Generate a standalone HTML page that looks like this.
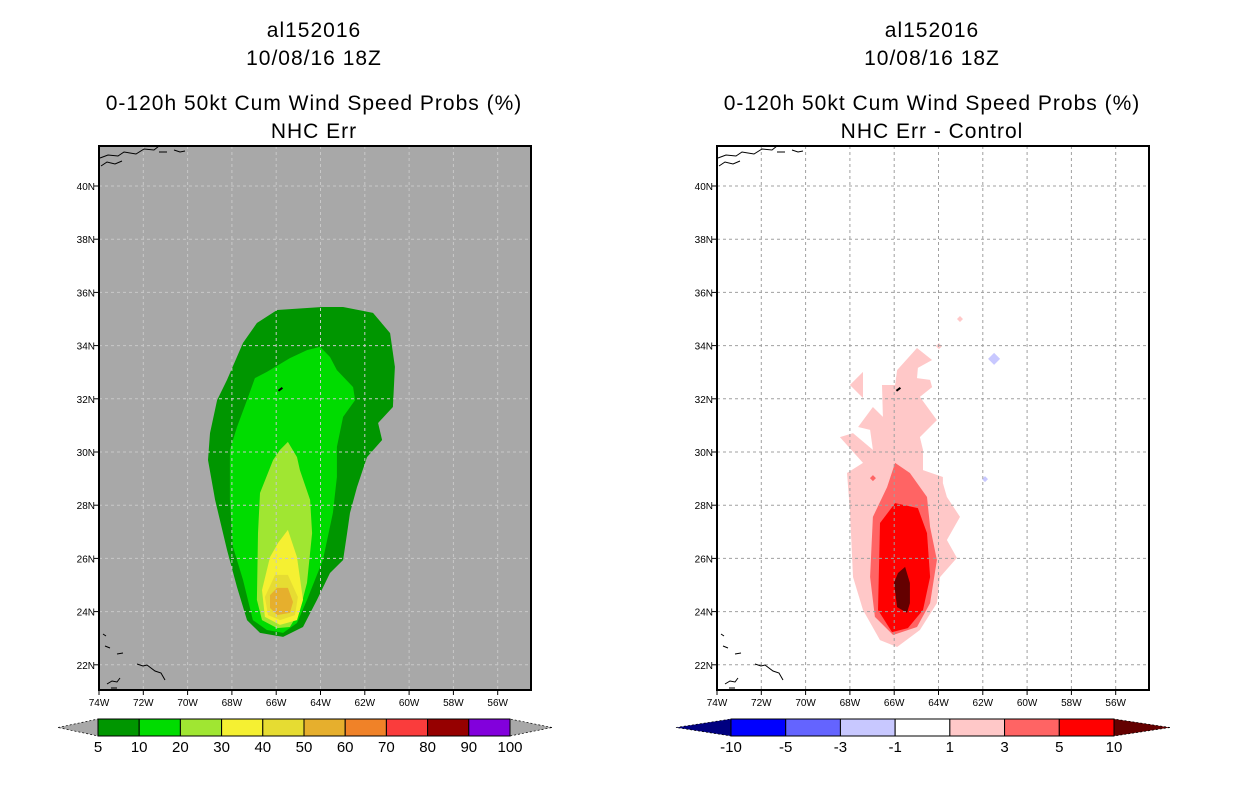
<!DOCTYPE html>
<html><head><meta charset="utf-8"><style>
body{margin:0;background:#fff;width:1236px;height:800px;overflow:hidden}
svg{display:block}
text{font-family:"Liberation Sans",sans-serif;fill:#000}
.t{font-size:21px;text-anchor:middle;letter-spacing:1px}
.tk{font-size:10px}
.cb{font-size:15px;text-anchor:middle}
</style></head><body>
<svg id="c" width="1236" height="800"></svg>
<script>
// ---- data ----
const lonTicks=[-74,-72,-70,-68,-66,-64,-62,-60,-58,-56];
const lonLabels=["74W","72W","70W","68W","66W","64W","62W","60W","58W","56W"];
const latTicks=[22,24,26,28,30,32,34,36,38,40];
const latLabels=["22N","24N","26N","28N","30N","32N","34N","36N","38N","40N"];
const leftLevels=["5","10","20","30","40","50","60","70","80","90","100"];
const leftColors=["#009600","#00dc00","#a0e632","#f5f032","#e6dc32","#e6af2d","#f08228","#fa3c3c","#960000","#8200dc"];
const rightLevels=["-10","-5","-3","-1","1","3","5","10"];
const rightColors=["#0000ff","#6464ff","#c8c8ff","#ffffff","#ffc8c8","#ff6464","#ff0000"];
const probDarkGreen=[[-65.96,35.34],[-63.93,35.45],[-62.98,35.45],[-61.63,35.23],[-60.86,34.47],[-60.64,33.2],[-60.73,31.69],[-61.4,31.09],[-61.22,30.45],[-61.9,29.81],[-62.35,28.68],[-62.67,27.71],[-62.8,26.95],[-62.98,25.94],[-63.57,25.45],[-64.16,24.44],[-64.79,23.42],[-65.69,23.05],[-66.73,23.2],[-67.32,23.68],[-67.77,24.92],[-68.22,26.32],[-68.76,28.2],[-69.08,29.7],[-68.99,30.71],[-68.67,31.95],[-68.22,32.71],[-67.5,34.1],[-66.87,34.85]];
const probGreen=[[-64.02,33.95],[-63.57,33.57],[-63.26,33.08],[-62.53,32.44],[-62.44,31.95],[-62.98,31.32],[-63.26,30.19],[-63.26,29.06],[-63.44,27.71],[-63.89,25.94],[-64.61,24.44],[-65.06,23.57],[-65.69,23.2],[-66.42,23.31],[-67.05,23.68],[-67.5,25.19],[-67.95,26.43],[-68.09,28.2],[-68.09,30.08],[-67.77,30.94],[-67.32,31.95],[-66.96,32.78],[-66.42,33.01],[-65.38,33.53],[-64.61,33.83]];
const probLightGreen=[[-65.47,30.38],[-65.06,29.81],[-64.93,29.32],[-64.47,28.2],[-64.38,26.95],[-64.61,25.08],[-64.93,24.06],[-65.38,23.42],[-65.96,23.38],[-66.64,23.68],[-66.87,24.44],[-66.82,26.95],[-66.73,28.46],[-66.14,29.7],[-65.83,30.08]];
const probYellow=[[-65.47,27.07],[-65.06,26.05],[-64.79,24.44],[-65.06,23.68],[-65.83,23.5],[-66.51,23.8],[-66.64,24.81],[-66.28,26.05],[-65.92,26.58]];
const prob40=[[-66.05,25.38],[-65.47,25.38],[-65.02,24.55],[-65.15,23.87],[-65.83,23.68],[-66.37,23.87],[-66.51,24.55]];
const prob50=[[-65.96,24.89],[-65.47,24.89],[-65.24,24.36],[-65.38,23.95],[-65.96,23.87],[-66.28,24.14],[-66.28,24.62]];
const diffPink=[[-64.97,33.91],[-64.29,33.46],[-64.93,33.16],[-64.97,32.78],[-64.38,32.71],[-64.29,32.44],[-64.84,32.07],[-64.07,31.2],[-64.84,30.56],[-64.7,30.08],[-64.7,29.32],[-63.8,29.06],[-63.8,28.83],[-63.62,28.31],[-63.03,27.56],[-63.62,26.69],[-63.17,26.02],[-63.93,25.3],[-64.07,24.32],[-64.84,23.31],[-65.87,22.67],[-66.64,22.93],[-67.41,24.06],[-67.86,25.3],[-68.0,27.82],[-68.13,29.21],[-67.41,29.59],[-68.45,30.56],[-67.86,30.71],[-66.96,30.08],[-67.09,30.83],[-67.63,30.94],[-66.96,31.69],[-66.51,31.32],[-66.55,32.52],[-65.96,32.52],[-65.87,33.08]];
const diffPinkIsland=[[-68.0,32.52],[-67.41,33.01],[-67.41,32.03]];
const diffMedPink=[[-65.96,29.59],[-65.29,29.21],[-64.52,28.31],[-64.38,27.18],[-64.07,25.94],[-64.38,24.32],[-64.97,23.42],[-66.05,23.12],[-66.87,23.8],[-67.09,25.3],[-66.96,27.56],[-66.32,28.68]];
const diffRed=[[-65.96,28.08],[-64.93,27.89],[-64.52,26.95],[-64.38,25.3],[-64.7,24.06],[-65.38,23.38],[-66.1,23.23],[-66.73,24.06],[-66.64,27.33]];
const diffDarkRed=[[-65.51,25.68],[-65.29,25.08],[-65.29,24.32],[-65.42,23.95],[-65.87,24.17],[-66.01,25.08],[-65.83,25.45]];
const diffSpots=[[-63.03,35.0,"#ffc8c8",3],[-63.98,33.98,"#ffc8c8",3],[-66.96,29.02,"#ff6464",3],[-61.49,33.5,"#c8c8ff",6],[-61.9,28.98,"#c8c8ff",3]];

const NS="http://www.w3.org/2000/svg";
const svg=document.getElementById('c');
function el(tag,attrs,parent){const e=document.createElementNS(NS,tag);for(const k in attrs)e.setAttribute(k,attrs[k]);(parent||svg).appendChild(e);return e;}
const W=432,H=544,TOP=146;
function xS(x0){return lon=>x0+(lon+74)*22.15;}
function yS(lat){return 186+(40-lat)*26.6;}
function poly(pts,fill,x,g,name){const p=el('polygon',{points:pts.map(q=>x(q[0]).toFixed(1)+','+yS(q[1]).toFixed(1)).join(' '),fill:fill},g);

return p;}

function panel(x0,bg,grid,t3,t4,name){
  const g=el('g',{});
  
  
  const cx=x0+W/2-1;
  [["al152016",37],["10/08/16 18Z",65],["0-120h 50kt Cum Wind Speed Probs (%)",110],[t4,138]].forEach((t,i)=>{
    const tx=el('text',{x:cx,y:t[1],class:'t'},g);tx.textContent=t[0];
    
    
  });
  el('rect',{x:x0,y:TOP,width:W,height:H,fill:bg},g);
  return g;
}
function finish(g,x0,grid){
  const x=xS(x0);
  lonTicks.forEach((v,i)=>{const px=x(v);
    const l=el('line',{x1:px,y1:TOP,x2:px,y2:TOP+H,stroke:grid,'stroke-dasharray':'3,3'},g);
    
    el('line',{x1:px,y1:TOP+H,x2:px,y2:TOP+H+5,stroke:'#000'},g);
    const t=el('text',{x:px,y:TOP+H+16,class:'tk','text-anchor':'middle'},g);t.textContent=lonLabels[i];
    });
  latTicks.forEach((v,i)=>{const py=yS(v);
    const l=el('line',{x1:x0,y1:py,x2:x0+W,y2:py,stroke:grid,'stroke-dasharray':'3,3'},g);
    
    el('line',{x1:x0-5,y1:py,x2:x0,y2:py,stroke:'#000'},g);
    const t=el('text',{x:x0-4,y:py+4,class:'tk','text-anchor':'end'},g);t.textContent=latLabels[i];
    });
  // coastlines
  const c1=el('path',{d:`M${x0+1} ${TOP+12} l8 -3 l10 1 l6 -4 l12 2 l8 -5 l10 1 l5 -4 M${x0+2} ${TOP+20} l6 -4 l8 2 l7 -3 M${x0+60} ${TOP+6} l8 0 M${x0+75} ${TOP+4} l6 2 l5 -1 M${x0+4} ${TOP+488} l3 2 M${x0+6} ${TOP+500} l5 2 M${x0+18} ${TOP+508} l6 -1 M${x0+38} ${TOP+518} l6 2 l4 -1 l8 6 l6 2 l4 7 M${x0+8} ${TOP+538} l5 -3 l5 1 l3 -4 M${x0+12} ${TOP+542} l6 0`,fill:'none',stroke:'#000','stroke-width':1},g);
  
  el('path',{d:`M${x(-65.9)} ${yS(32.3)} l4 -3`,stroke:'#000','stroke-width':2},g);
  const b=el('rect',{x:x0,y:TOP,width:W,height:H,fill:'none',stroke:'#000','stroke-width':2},g);
  
}
function colorbar(g,x0,x1,triL,triR,colors,labels,lc,rc,name){
  const cg=el('g',{},g);
  
  
  const y0=719,h=17,w=(x1-x0)/colors.length;
  el('polygon',{points:`${triL},${y0+h/2} ${x0},${y0} ${x0},${y0+h}`,fill:lc,stroke:'#000','stroke-dasharray':'2,2','stroke-width':0.7},cg);
  el('polygon',{points:`${triR},${y0+h/2} ${x1},${y0} ${x1},${y0+h}`,fill:rc,stroke:'#000','stroke-dasharray':'2,2','stroke-width':0.7},cg);
  colors.forEach((c,i)=>{const r=el('rect',{x:x0+i*w,y:y0,width:w,height:h,fill:c,stroke:'#000','stroke-width':1},cg);
    });
  labels.forEach((l,i)=>{const t=el('text',{x:x0+i*w,y:y0+h+16,class:'cb'},cg);t.textContent=l;
    });
}
// left
const gL=panel(99,'#a8a8a8','#c8c8c8','','NHC Err','left-panel');
const xL=xS(99);
[[probDarkGreen,leftColors[0],'contour-5-10'],[probGreen,leftColors[1],'contour-10-20'],[probLightGreen,leftColors[2],'contour-20-30'],[probYellow,leftColors[3],'contour-30-40'],[prob40,leftColors[4],'contour-40-50'],[prob50,leftColors[5],'contour-50-60']].forEach(a=>poly(a[0],a[1],xL,gL,a[2]));
finish(gL,99,'#c8c8c8');
colorbar(gL,98,510,58,552,leftColors,leftLevels,'#a8a8a8','#a8a8a8','left-colorbar');
// right
const gR=panel(717,'#ffffff','#a0a0a0','','NHC Err - Control','right-panel');
const xR=xS(717);
[[diffPink,rightColors[4],'diff-1-3'],[diffPinkIsland,rightColors[4],'diff-1-3-island'],[diffMedPink,rightColors[5],'diff-3-5'],[diffRed,rightColors[6],'diff-5-10'],[diffDarkRed,'#640000','diff-above-10']].forEach(a=>poly(a[0],a[1],xR,gR,a[2]));
diffSpots.forEach(s=>{const px=xR(s[0]),py=yS(s[1]),r=s[3];
  const d=el('polygon',{points:`${px},${py-r} ${px+r},${py} ${px},${py+r} ${px-r},${py}`,fill:s[2]},gR);
  });
finish(gR,717,'#a0a0a0');
colorbar(gR,731,1114,676,1170,rightColors,rightLevels,'#000080','#640000','right-colorbar');
</script>
</body></html>
